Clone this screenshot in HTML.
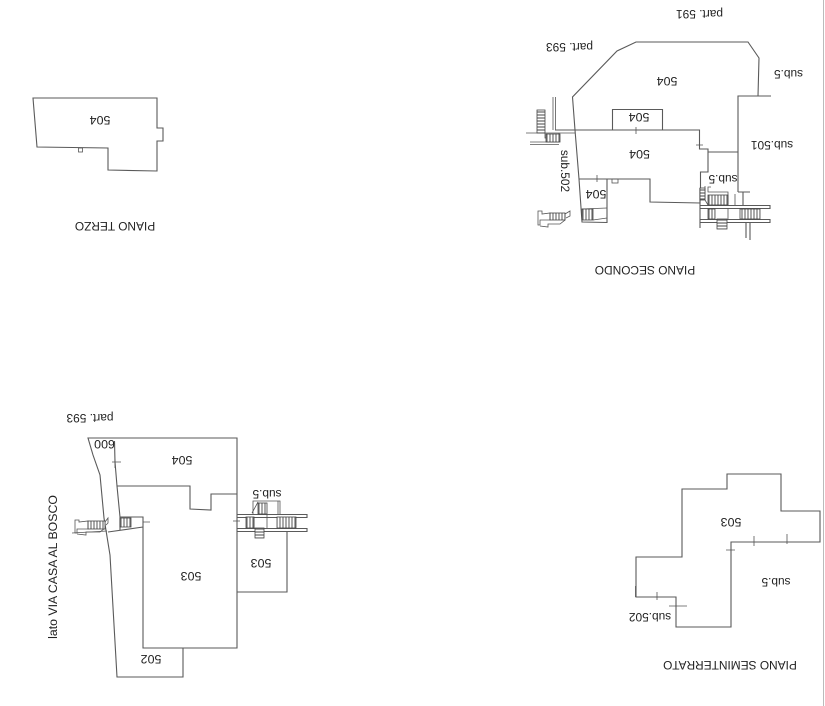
<!DOCTYPE html>
<html>
<head>
<meta charset="utf-8">
<style>
html,body{margin:0;padding:0;background:#fff;width:825px;height:706px;overflow:hidden}
svg{display:block}
text{font-family:"Liberation Sans",sans-serif;font-size:11.9px;fill:#222;text-anchor:middle;dominant-baseline:central}
.n{font-size:12.4px}
.l{fill:none;stroke:#5a5a5a;stroke-width:1.1}
.t{fill:none;stroke:#555;stroke-width:.8}
.h{fill:url(#hatch);stroke:#444;stroke-width:.8}
.v{fill:url(#hv);stroke:#444;stroke-width:.8}
</style>
</head>
<body>
<svg width="825" height="706" viewBox="0 0 825 706" xmlns="http://www.w3.org/2000/svg">
<defs>
<pattern id="hatch" width="3" height="100" patternUnits="userSpaceOnUse"><rect width="3" height="100" fill="#fff"/><line x1="1" y1="0" x2="1" y2="100" stroke="#444" stroke-width=".9"/></pattern>
<pattern id="hv" width="100" height="3" patternUnits="userSpaceOnUse"><rect width="100" height="3" fill="#fff"/><line x1="0" y1="1" x2="100" y2="1" stroke="#444" stroke-width=".9"/></pattern>
</defs>
<line x1="823.5" y1="0" x2="823.5" y2="706" stroke="#bbb" stroke-width="1"/>

<!-- PIANO TERZO -->
<path class="l" d="M33 98H157V128H163V141H157V171L108 170V148L37 147Z"/>
<rect class="t" x="78.5" y="148" width="4" height="4"/>

<!-- PIANO SECONDO -->
<path class="l" d="M738 192V96H771M758 96L759 58L748 42H636L617 51L572.5 97L575 130L579 179L582 222L607 222.5V179M579 179H650V202L700 203V188M612.5 130V109.5H662.5V130M555 130H699.5V149H708V172H700.5V188M708 152H738M738 192H750M743 192V205"/>
<path class="t" d="M636 127V134M696 145H703M597 175V182M582 209L607 208M593 220L607 218"/>
<rect class="t" x="612" y="179" width="6" height="4"/>
<path class="t" d="M553 97V130M555.5 97V130M526 133H575M530 142H559V133M530 144.5H559M545 133V138H559"/>
<rect class="v" x="537" y="110" width="8" height="23"/>
<rect class="h" x="546" y="134" width="14" height="8"/>
<rect class="h" x="582" y="209" width="11" height="11"/>
<path class="t" d="M538 211H542V214L550 213V220H540V225H538ZM540 226L548 227V224H560L565 220V214L570 211V216L566 218"/>
<rect class="h" x="550" y="213" width="15" height="7"/>
<path class="l" d="M700 205.5H770V208.5H700M700 219.5H770V222.5H700M700 188V228M746 222V238M750 222V240"/>
<path class="t" d="M705 186V200M705 200L708 205M711 187H708V192H728V205M728 208V219M735 194V205"/>
<rect class="h" x="708" y="195" width="20" height="10"/>
<rect class="h" x="740" y="209" width="20" height="10"/>
<rect class="h" x="708" y="209" width="7" height="10"/>
<rect class="v" x="717" y="219" width="10" height="10"/>
<rect class="v" x="700" y="188" width="5" height="12"/>

<!-- PIANO INTERRATO SX -->
<path class="l" d="M237 494V438H88L93 455L100 475L104 518L110 555L117 677H183V648H143V517H120L117 486H190V509L211 510V494H237V648H183M114.5 441L115 462L117 486M120 517V530M237 592H287V531M108 532L143 527"/>
<path class="t" d="M112 462H121M115 459V468M143 522H150M72 533L107 531"/>
<rect class="h" x="120" y="518" width="11" height="9"/>
<path class="t" d="M75 520H79V522L88 521V529H77V533H75ZM77 534L86 535V532H100L105 528V522L108 518V523L106 525"/>
<rect class="h" x="88" y="521" width="17" height="8"/>
<path class="l" d="M237 514.5H307V517.5H237M237 528.5H307V531.5H237"/>
<path class="t" d="M233 521H240M253 514V501H280V514M278 501V514M252 513L258 502M267 514V528M254 517V528M263 528V538"/>
<rect class="h" x="258" y="503" width="9" height="11"/>
<rect class="h" x="246" y="517" width="8" height="11"/>
<rect class="h" x="277" y="517" width="19" height="11"/>
<rect class="v" x="255" y="528" width="9" height="10"/>

<!-- PIANO SEMINTERRATO -->
<path class="l" d="M727 474H781V511H820V542H731V627H676V597H636V557H682V489H727Z"/>
<path class="t" d="M754 536V546M787 534V544M726 550H735M657 592V600M669 606H687M635.5 586V597"/>

<!-- labels -->
<g>
<text class="n" transform="rotate(180 100 120)" x="100" y="120">504</text>
<text transform="rotate(180 115 226)" x="115" y="226">PIANO TERZO</text>
<text transform="rotate(180 699.5 14)" x="699.5" y="14">part. 591</text>
<text transform="rotate(180 569.5 47)" x="569.5" y="47">part. 593</text>
<text class="n" transform="rotate(180 667 81)" x="667" y="81">504</text>
<text transform="rotate(180 788.5 74)" x="788.5" y="74">sub.5</text>
<text class="n" transform="rotate(180 639 117)" x="639" y="117">504</text>
<text class="n" transform="rotate(180 639.5 154)" x="639.5" y="154">504</text>
<text class="n" transform="rotate(180 596 194)" x="596" y="194">504</text>
<text transform="rotate(180 772 145)" x="772" y="145">sub.501</text>
<text transform="rotate(180 723 179)" x="723" y="179">sub.5</text>
<text transform="rotate(90 565 171)" x="565" y="171">sub.502</text>
<text transform="rotate(180 645 270)" x="645" y="270">PIANO SECONDO</text>
<text transform="rotate(180 90 418)" x="90" y="418">part. 593</text>
<text class="n" transform="rotate(180 104.5 444)" x="104.5" y="444">600</text>
<text class="n" transform="rotate(180 182 460)" x="182" y="460">504</text>
<text transform="rotate(180 267 494)" x="267" y="494">sub.5</text>
<text class="n" transform="rotate(180 191 576)" x="191" y="576">503</text>
<text class="n" transform="rotate(180 261 563)" x="261" y="563">503</text>
<text class="n" transform="rotate(180 151 659)" x="151" y="659">502</text>
<text style="font-size:12.3px" transform="rotate(-90 53 567)" x="53" y="567">lato VIA CASA AL BOSCO</text>
<text transform="rotate(180 730 665)" x="730" y="665">PIANO SEMINTERRATO</text>
<text class="n" transform="rotate(180 731 522)" x="731" y="522">503</text>
<text transform="rotate(180 776 582)" x="776" y="582">sub.5</text>
<text transform="rotate(180 650 617)" x="650" y="617">sub.502</text>
</g>
</svg>
</body>
</html>
